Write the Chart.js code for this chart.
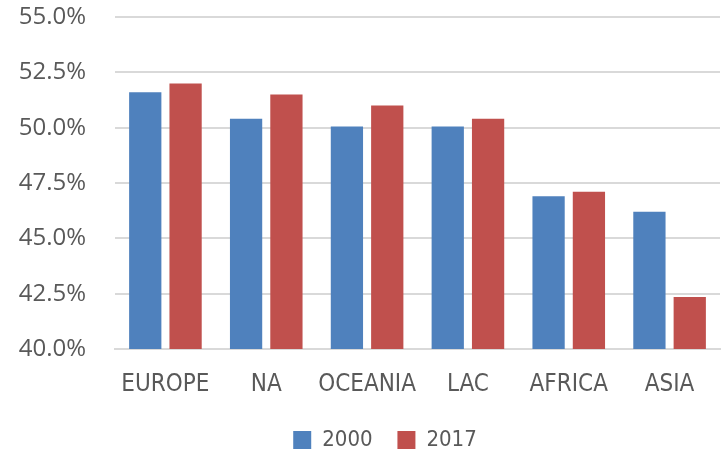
<!DOCTYPE html>
<html>
<head>
<meta charset="utf-8">
<script src="https://cdn.jsdelivr.net/npm/chart.js@4"></script>
<style>
  html, body { margin: 0; padding: 0; background: #fff; }
  #wrap { width: 727px; height: 455px; }
</style>
</head>
<body>
<div id="wrap"><canvas id="c"></canvas></div>
<script>
// データ
const regions = ['EUROPE', 'NA', 'OCEANIA', 'LAC', 'AFRICA', 'ASIA'];
const share2000 = [51.6, 50.4, 50.05, 50.05, 46.9, 46.2];
const share2017 = [52.0, 51.5, 51.0, 50.4, 47.1, 42.35];
const seriesNames = ['2000', '2017'];

const narrow = "'DejaVu Sans Condensed', 'Liberation Sans', sans-serif";

// 凡例を少し右へずらす
const legendShift = {
    id: 'legendShift',
    afterLayout(chart) {
        chart.legend.left += 25;
        chart.legend.right += 25;
    }
};

const ctx = document.getElementById('c').getContext('2d');
new Chart(ctx, {
    type: 'bar',
    data: {
        labels: regions,
        datasets: [
            { label: seriesNames[0], data: share2000, backgroundColor: '#4F81BD' },
            { label: seriesNames[1], data: share2017, backgroundColor: '#C0504D' }
        ]
    },
    plugins: [legendShift],
    options: {
        responsive: true,
        maintainAspectRatio: false,
        animation: false,
        layout: { padding: { top: 17, right: 7, left: 0, bottom: -6 } },
        datasets: { bar: { categoryPercentage: 0.8, barPercentage: 0.8 } },
        scales: {
            y: {
                min: 40,
                max: 55,
                ticks: {
                    stepSize: 2.5,
                    color: '#595959',
                    font: { family: 'Open Sans', size: 24 },
                    padding: 29,
                    callback: v => v.toFixed(1) + '%'
                },
                grid: { color: '#d9d9d9', lineWidth: 2, drawTicks: false },
                border: { display: false },
                afterFit: s => { s.width = 115; s.paddingTop = 0; s.paddingBottom = 0; }
            },
            x: {
                ticks: {
                    color: '#595959',
                    font: { family: narrow, size: 24 },
                    padding: 13,
                    maxRotation: 0,
                    autoSkip: false
                },
                grid: { display: false },
                border: { color: '#d9d9d9', width: 2 },
                afterFit: s => { s.height = 74; s.paddingLeft = 0; s.paddingRight = 0; }
            }
        },
        plugins: {
            legend: {
                position: 'bottom',
                labels: {
                    color: '#595959',
                    font: { family: narrow, size: 22 },
                    boxWidth: 18,
                    boxHeight: 18,
                    padding: 6,
                    // 凡例項目の間隔を広げる
                    generateLabels: chart => {
                        const items = Chart.defaults.plugins.legend.labels.generateLabels(chart);
                        items[0].text += '   ';
                        return items;
                    }
                }
            },
            tooltip: { enabled: false }
        }
    }
});
</script>
</body>
</html>
